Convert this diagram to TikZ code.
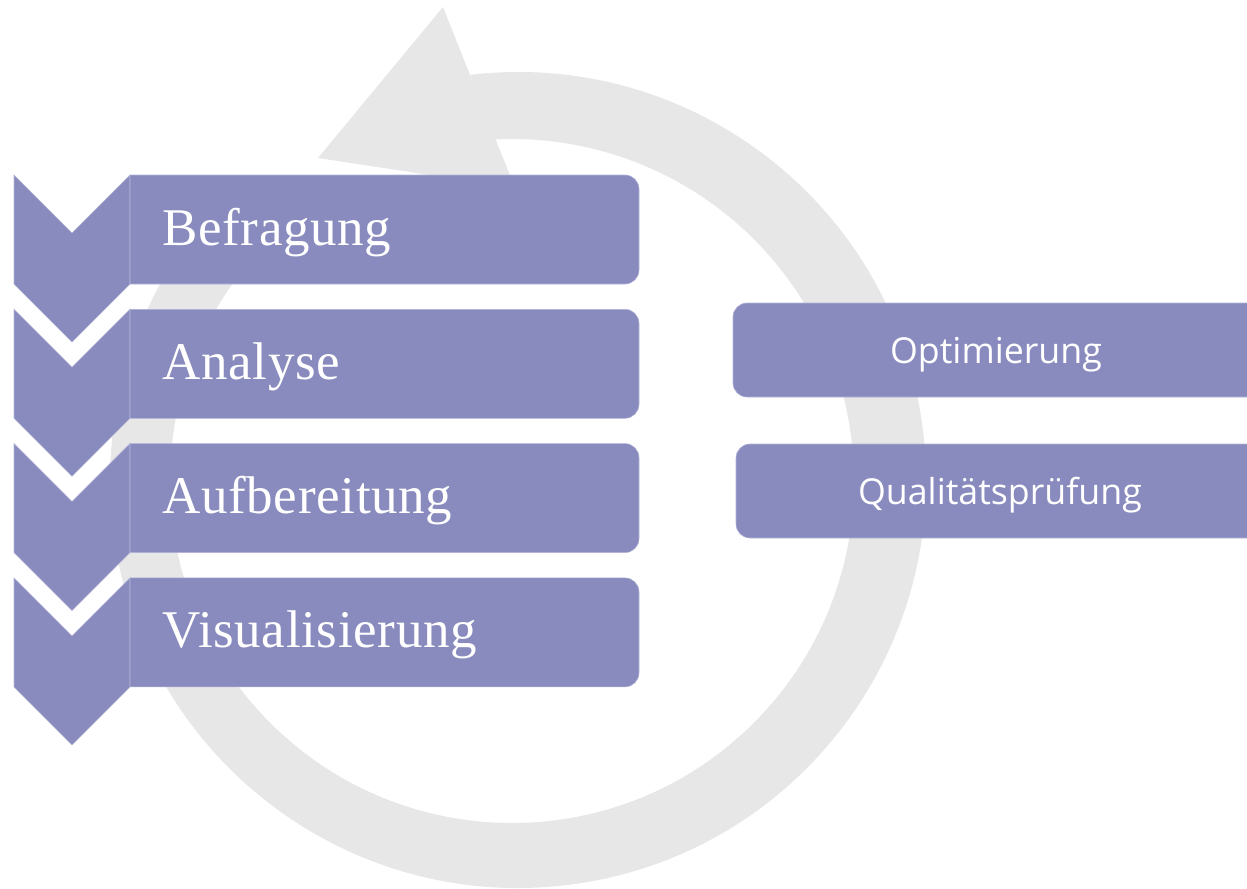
\documentclass[tikz,border=0pt]{standalone}
\usepackage{fontspec}
\setmainfont{Liberation Serif}
\newfontfamily\boxfont{Open Sans}
\definecolor{ringgray}{RGB}{231,231,231}
\definecolor{stepblue}{RGB}{137,139,190}
\definecolor{stepedge}{RGB}{178,180,214}
\begin{document}
\begin{tikzpicture}[x=0.75pt,y=0.75pt,
  ringfill/.style={fill=ringgray},
  stepfill/.style={fill=stepblue, draw=stepedge, line width=0.4pt},
  steplabel/.style={text=white, font=\fontsize{39.75}{44}\selectfont\addfontfeature{LetterSpace=1.3}, anchor=base west, inner sep=0pt},
  sidelabel/.style={text=white, font=\boxfont\fontsize{26.8}{32}\selectfont, anchor=base, inner sep=0pt}]
\useasboundingbox (0,0) rectangle (1247,-889);
\clip (0,0) rectangle (1247,-889);
% circular arrow ring
\fill[ringfill] ([shift={(518,-480)}]96.7:408) arc[start angle=96.7, end angle=-225, radius=408]
  -- ([shift={(512,-481)}]-225:342) arc[start angle=-225, end angle=93.5, radius=342] -- cycle;
% arrow head
\fill[ringfill] (318,-158) -- (443,-7) -- (515,-188) -- cycle;
% steps
\foreach \i/\lab in {0/Befragung,1/Analyse,2/Aufbereitung,3/Visualisierung}{
  \pgfmathsetmacro{\yt}{-175-134.3*\i}
  \pgfmathsetmacro{\yb}{\yt-109}
  \filldraw[stepfill] (14,\yt) -- (72,\yt-58) -- (130,\yt) -- (130,\yb) -- (72,\yb-58) -- (14,\yb) -- cycle;
  \filldraw[stepfill] (130,\yt) -- (625,\yt) arc[start angle=90, end angle=0, radius=14]
    -- (639,\yb+14) arc[start angle=0, end angle=-90, radius=14] -- (130,\yb) -- cycle;
  \node[steplabel] (lab\i) at (162,\yt-70) {\lab};
}
% side boxes
\filldraw[stepfill] (1260,-303) -- (747,-303) arc[start angle=90, end angle=180, radius=14]
  -- (733,-383) arc[start angle=180, end angle=270, radius=14] -- (1260,-397) -- cycle;
\filldraw[stepfill] (1260,-444) -- (750,-444) arc[start angle=90, end angle=180, radius=14]
  -- (736,-524) arc[start angle=180, end angle=270, radius=14] -- (1260,-538) -- cycle;
\node[sidelabel] (opt) at (996,-363) {Optimierung};
\node[sidelabel] (qual) at (1000,-504) {Qualitätsprüfung};
\end{tikzpicture}
\end{document}
